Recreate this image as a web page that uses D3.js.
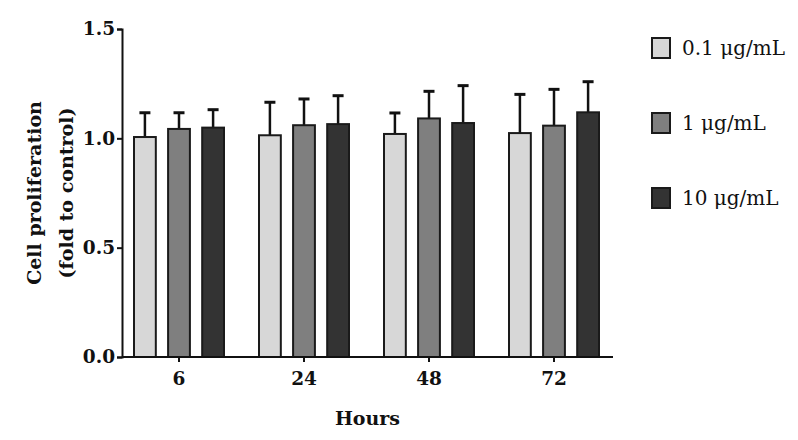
<!DOCTYPE html>
<html>
<head>
<meta charset="utf-8">
<script src="https://cdn.jsdelivr.net/npm/d3@7"></script>
<style>
  html, body { margin: 0; padding: 0; background: #fff; }
  svg { display: block; }
  .axis path, .axis line { stroke: #111; stroke-width: 2px; }
  .axis text { font-family: "DejaVu Serif", serif; font-weight: bold; font-size: 18.5px; fill: #111; }
</style>
</head>
<body>
<div id="chart"></div>
<script>
const hours = ['6', '24', '48', '72'];
const doses = ['0.1 μg/mL', '1 μg/mL', '10 μg/mL'];
const doseColors = ['#d7d7d7', '#7f7f7f', '#333333'];
const yTicks = [0, 0.5, 1.0, 1.5];

// mean fold change per dose, one value per time point
const mean01 = [1.006, 1.014, 1.020, 1.024];
const mean1 = [1.043, 1.060, 1.091, 1.058];
const mean10 = [1.049, 1.065, 1.070, 1.119];
// standard deviation (upper error bar)
const sd01 = [0.111, 0.151, 0.096, 0.177];
const sd1 = [0.074, 0.120, 0.124, 0.166];
const sd10 = [0.082, 0.130, 0.171, 0.140];

const means = [mean01, mean1, mean10];
const sds = [sd01, sd1, sd10];

const W = 798, H = 440;
const margin = { top: 29, right: 185, bottom: 83, left: 122 };
const width = W - margin.left - margin.right;
const height = H - margin.top - margin.bottom;

const svg = d3.select('#chart').append('svg').attr('width', W).attr('height', H)
  .append('g').attr('transform', `translate(${margin.left},${margin.top})`);

const x0 = d3.scaleBand().domain(hours).range([-5.5, width + 3.5]).paddingInner(0.28).paddingOuter(0.14);
const x1 = d3.scaleBand().domain(d3.range(doses.length)).range([0, x0.bandwidth()]).paddingInner(0.36);
const y = d3.scaleLinear().domain([0, 1.5]).range([height, 0]);

const rows = [];
hours.forEach((h, i) => {
  doses.forEach((d, j) => rows.push({ hour: h, dose: j, mean: means[j][i], sd: sds[j][i] }));
});

// error bars (upper only)
const capW = 11;
const err = svg.append('g').selectAll('g').data(rows).enter().append('g')
  .attr('transform', d => `translate(${x0(d.hour) + x1(d.dose) + x1.bandwidth() / 2},0)`);
err.append('line').attr('y1', d => y(d.mean)).attr('y2', d => y(d.mean + d.sd))
  .attr('stroke', '#111').attr('stroke-width', 2.5);
err.append('line').attr('x1', -capW / 2).attr('x2', capW / 2)
  .attr('y1', d => y(d.mean + d.sd)).attr('y2', d => y(d.mean + d.sd))
  .attr('stroke', '#111').attr('stroke-width', 3);

svg.append('g').selectAll('rect').data(rows).enter().append('rect')
  .attr('x', d => x0(d.hour) + x1(d.dose))
  .attr('width', x1.bandwidth())
  .attr('y', d => y(d.mean))
  .attr('height', d => height - y(d.mean))
  .attr('fill', d => doseColors[d.dose])
  .attr('stroke', '#1a1a1a').attr('stroke-width', 2);

// axes
svg.append('g').attr('class', 'axis')
  .call(d3.axisLeft(y).tickValues(yTicks).tickFormat(d3.format('.1f')).tickSize(5).tickPadding(2));
const xAxis = svg.append('g').attr('class', 'axis').attr('transform', `translate(0,${height})`)
  .call(d3.axisBottom(x0).tickSize(5).tickSizeOuter(0).tickPadding(10));
xAxis.select('.domain').attr('d', `M0,0H${width}`);

svg.append('text').attr('x', width / 2).attr('y', height + 68)
  .attr('text-anchor', 'middle')
  .style('font-family', '"DejaVu Serif", serif').style('font-weight', 'bold').style('font-size', '19px')
  .attr('fill', '#111')
  .text('Hours');

const yl = svg.append('text').attr('transform', `translate(${-81},${height / 2}) rotate(-90)`)
  .attr('text-anchor', 'middle')
  .style('font-family', '"DejaVu Serif", serif').style('font-weight', 'bold').style('font-size', '19px')
  .attr('fill', '#111');
yl.append('tspan').attr('x', 0).attr('dy', 0).text('Cell proliferation');
yl.append('tspan').attr('x', 0).attr('dy', 32).text('(fold to control)');

// legend
const legend = svg.append('g').attr('transform', `translate(${width + 39},0)`);
const li = legend.selectAll('g').data(doses).enter().append('g')
  .attr('transform', (d, i) => `translate(0,${19 + i * 75})`);
li.append('rect').attr('x', 0).attr('y', -10).attr('width', 18).attr('height', 20)
  .attr('fill', (d, i) => doseColors[i]).attr('stroke', '#1a1a1a').attr('stroke-width', 2);
li.append('text').attr('x', 30).attr('y', 0).attr('dy', '0.35em')
  .style('font-family', '"DejaVu Serif", serif').style('font-size', '20px').attr('fill', '#111')
  .text(d => d);
</script>
</body>
</html>
